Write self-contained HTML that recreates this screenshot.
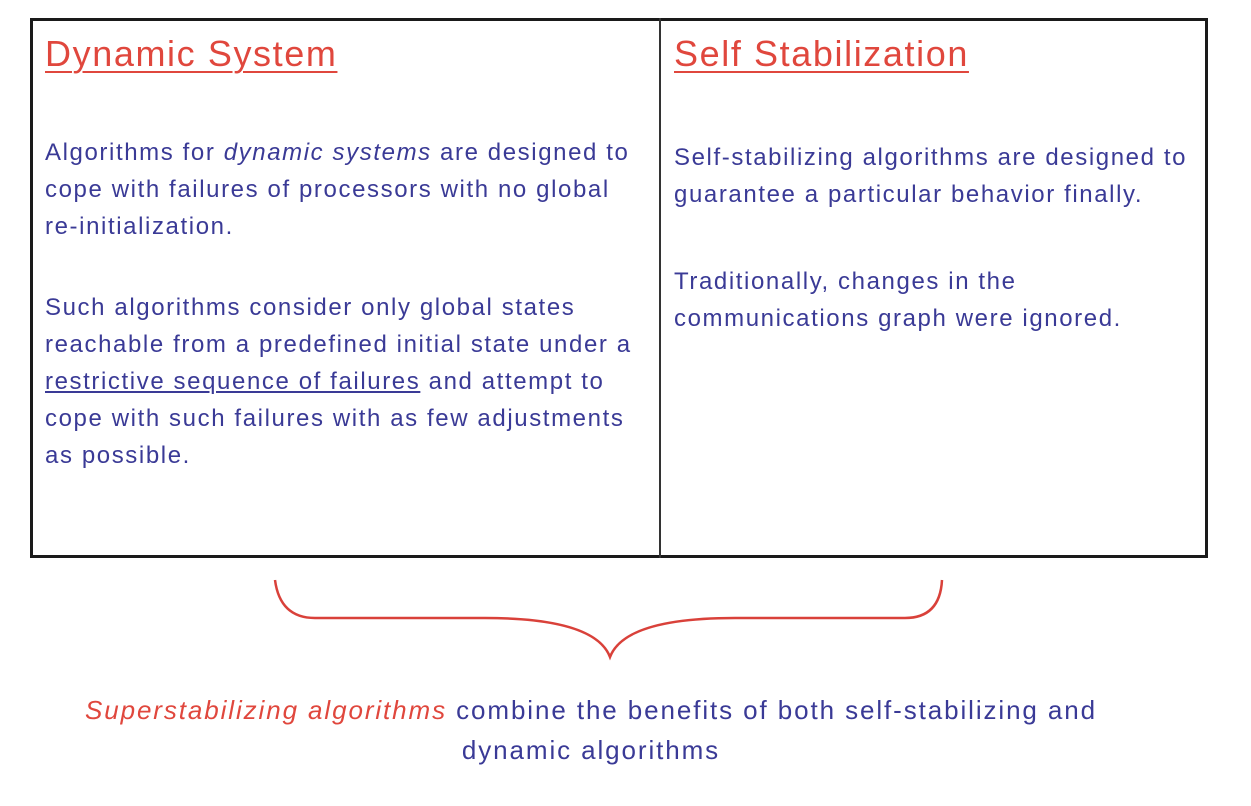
<!DOCTYPE html>
<html><head><style>
body{margin:0;width:1251px;height:806px;background:#fff;position:relative;overflow:hidden;font-family:"Liberation Sans",sans-serif;}
.box{position:absolute;left:30px;top:18px;width:1172px;height:534px;border:3px solid #1a1a1a;}
.div{position:absolute;left:659px;top:18px;width:2px;height:540px;background:#333;}
.t{position:absolute;white-space:nowrap;}
.h{color:#e0473d;font-size:36px;letter-spacing:1.6px;text-decoration:underline;text-decoration-thickness:2px;text-underline-offset:5px;}
.b{color:#3a3a96;font-size:24px;letter-spacing:1.6px;line-height:37px;}
.r{color:#e0473d;font-style:italic}
</style></head><body>
<div class="box"></div><div class="div"></div>
<div class="t h" style="left:45px;top:33px">Dynamic System</div>
<div class="t h" style="left:674px;top:33px">Self Stabilization</div>
<div class="t b" style="left:45px;top:134px">Algorithms for <i>dynamic systems</i> are designed to<br>cope with failures of processors with no global<br>re-initialization.</div>
<div class="t b" style="left:45px;top:289px">Such algorithms consider only global states<br>reachable from a predefined initial state under a<br><u>restrictive sequence of failures</u> and attempt to<br>cope with such failures with as few adjustments<br>as possible.</div>
<div class="t b" style="left:674px;top:139px">Self-stabilizing algorithms are designed to<br>guarantee a particular behavior finally.</div>
<div class="t b" style="left:674px;top:263px">Traditionally, changes in the<br>communications graph were ignored.</div>
<svg style="position:absolute;left:0;top:0" width="1251" height="806">
<path d="M275 580 Q280 618 315 618 L485 618 Q595 618 610 657 Q625 618 735 618 L905 618 Q940 618 942 580" fill="none" stroke="#d9413a" stroke-width="2.5"/>
</svg>
<div class="t b" style="left:0;width:1182px;text-align:center;top:690px;font-size:26px;letter-spacing:1.9px;line-height:40px"><span class="r">Superstabilizing algorithms</span> combine the benefits of both self-stabilizing and<br>dynamic algorithms</div>
</body></html>
